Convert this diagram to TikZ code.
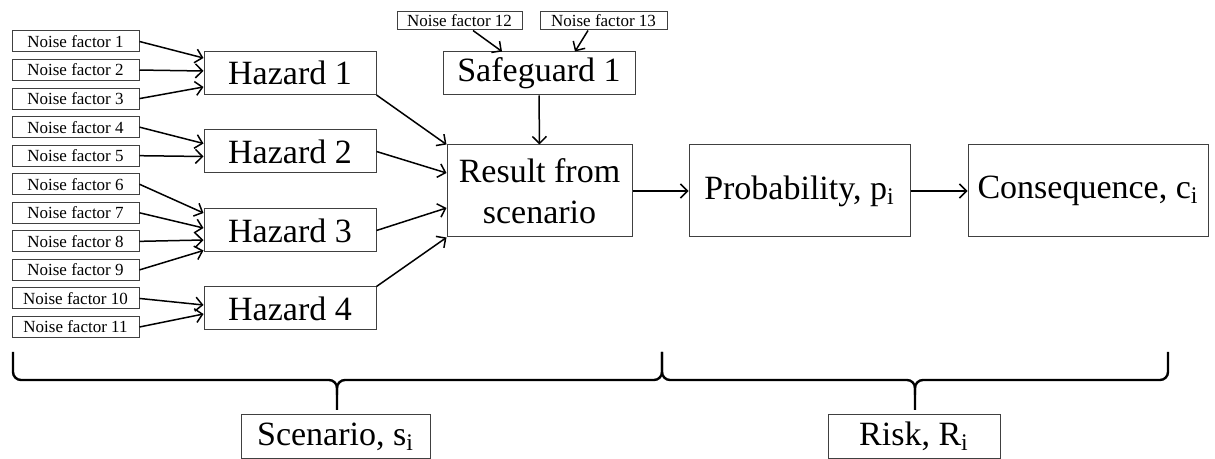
\documentclass[tikz,border=0pt]{standalone}
\usepackage{fontspec}
\setmainfont{Liberation Serif}
\usetikzlibrary{arrows.meta}

\begin{document}
\begin{tikzpicture}[x=0.5pt, y=-0.5pt,
    >={Straight Barb[length=3.5pt,width=7pt]},
    box/.style={draw=black!75, line width=0.5pt, inner sep=0pt, align=center},
    noise/.style={box, minimum width=63.5pt, minimum height=10.5pt, font=\fontsize{8.5}{10}\selectfont},
    big/.style={box, minimum height=21.5pt, font=\fontsize{17}{20.5}\selectfont},
    arr/.style={->, line width=0.75pt},
    brace/.style={line width=1.2pt, rounded corners=4pt}]
    \useasboundingbox (0,0) rectangle (1215,459);

    \foreach \i in {1,...,11}
        \node[noise] (nf\i) at (75.5,{41.5+28.55*(\i-1)}) {Noise factor \i};
    \node[noise, minimum width=62.5pt, minimum height=9pt] (nf12) at (459.5,21) {Noise factor 12};
    \node[noise, minimum width=63.5pt, minimum height=9pt] (nf13) at (603.5,21) {Noise factor 13};

    \node[big, minimum width=86pt] (h1) at (290,73) {Hazard 1};
    \node[big, minimum width=86pt] (h2) at (290,151.5) {Hazard 2};
    \node[big, minimum width=86pt] (h3) at (290,230.5) {Hazard 3};
    \node[big, minimum width=86pt] (h4) at (290,308.5) {Hazard 4};
    \node[big, minimum width=96pt] (sg) at (539,73.5) {Safeguard 1};
    \node[big, minimum width=92.5pt, minimum height=46pt] (res) at (539.5,191) {Result from\\scenario};
    \node[big, minimum width=110.5pt, minimum height=46pt] (prob) at (799.5,191) {Probability, p\textsubscript{i}};
    \node[big, minimum width=120pt, minimum height=46pt] (cons) at (1088,191) {Consequence, c\textsubscript{i}};
    \node[big, minimum width=94.5pt] (scen) at (335.5,436.5) {Scenario, s\textsubscript{i}};
    \node[big, minimum width=86pt] (risk) at (914,436.5) {Risk, R\textsubscript{i}};

    % noise factors into hazards
    \foreach \n/\h/\d in {1/1/7.5, 2/1/1, 3/1/-7, 4/2/4, 5/2/-2.5, 6/3/8.75,
                          7/3/1.25, 8/3/-4.75, 9/3/-10, 10/4/1.75, 11/4/-2.75}
        \draw[arr] (nf\n.east) -- ([yshift=\d pt]h\h.west);
    \draw[arr] ([xshift=6.75pt]nf12.south) -- ([xshift=-18.5pt]sg.north);
    \draw[arr] ([xshift=-7.75pt]nf13.south) -- ([xshift=18pt]sg.north);

    \draw[arr] (h1.south east) -- (res.north west);
    \draw[arr] (h2.east) -- ([yshift=9pt]res.west);
    \draw[arr] (h3.east) -- ([yshift=-8.5pt]res.west);
    \draw[arr] (h4.north east) -- (res.south west);
    \draw[arr] (sg.south) -- (res.north);
    \draw[arr] (res.east) -- (prob.west);
    \draw[arr] (prob.east) -- (cons.west);

    % braces
    \draw[brace] (13,352) -- (13,380) -- (337,380) -- (337,410);
    \draw[brace] (337,395) -- (337,380) -- (662,380) -- (662,352);
    \draw[brace] (662,352) -- (662,380) -- (915,380) -- (915,410);
    \draw[brace] (915,395) -- (915,380) -- (1168,380) -- (1168,352);
\end{tikzpicture}
\end{document}
